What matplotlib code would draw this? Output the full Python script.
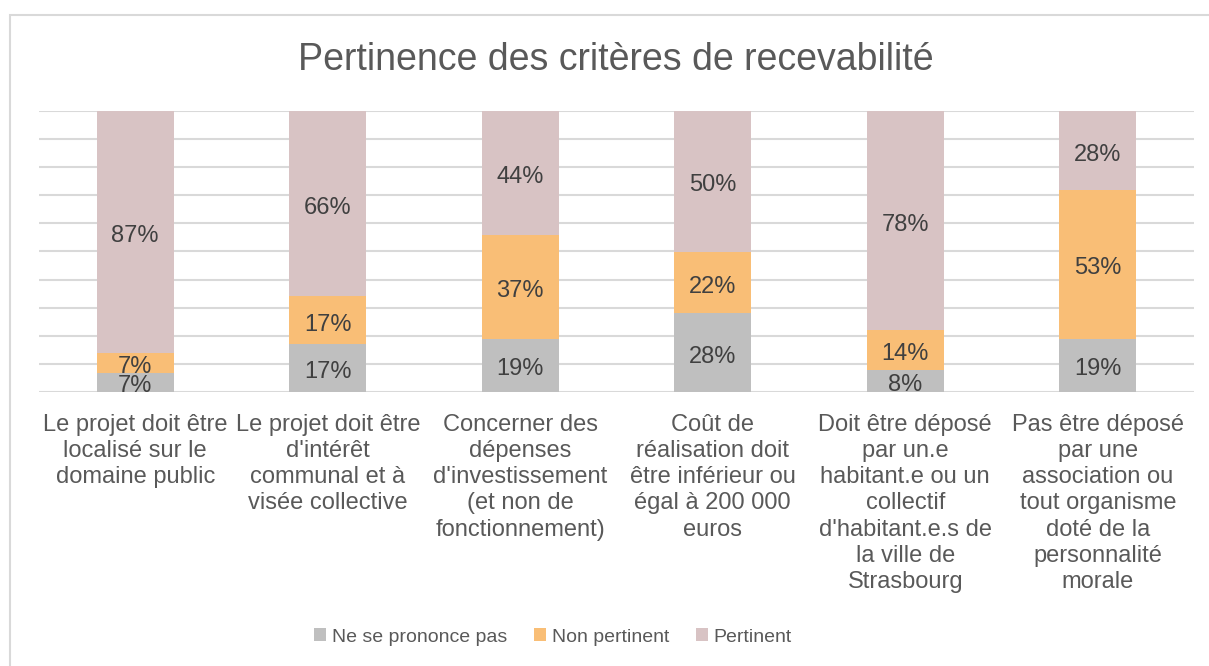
import numpy as np
import matplotlib
matplotlib.use("Agg")
import matplotlib.pyplot as plt
from matplotlib.patches import Patch, Rectangle

plt.rcParams["font.family"] = ["Liberation Sans", "DejaVu Sans"]

# Data
categories = [
    "Le projet doit être\nlocalisé sur le\ndomaine public",
    "Le projet doit être\nd'intérêt\ncommunal et à\nvisée collective",
    "Concerner des\ndépenses\nd'investissement\n(et non de\nfonctionnement)",
    "Coût de\nréalisation doit\nêtre inférieur ou\négal à 200 000\neuros",
    "Doit être déposé\npar un.e\nhabitant.e ou un\ncollectif\nd'habitant.e.s de\nla ville de\nStrasbourg",
    "Pas être déposé\npar une\nassociation ou\ntout organisme\ndoté de la\npersonnalité\nmorale",
]
ne_se_prononce = [7, 17, 19, 28, 8, 19]
non_pertinent = [7, 17, 37, 22, 14, 53]
pertinent = [87, 66, 44, 50, 78, 28]

series_names = ["Ne se prononce pas", "Non pertinent", "Pertinent"]
colors = ["#BFBFBF", "#F9BE76", "#D8C3C4"]

W, H = 1209, 666
fig = plt.figure(figsize=(W / 100, H / 100), dpi=100)

# outer chart frame (cut by the image on the right and bottom)
fig.patches.append(Rectangle((10 / W, -0.05), 1.1, 1 - 15 / H + 0.05,
                             transform=fig.transFigure, fill=False,
                             edgecolor="#D9D9D9", lw=1.5))

ax = fig.add_axes([39 / W, 1 - 392 / H, (1194 - 39) / W, (392 - 111) / H])

vals = np.array([ne_se_prononce, non_pertinent, pertinent], dtype=float)
totals = vals.sum(axis=0)
frac = vals / totals

x = np.arange(len(categories))
bottom = np.zeros(len(categories))
for i in range(3):
    ax.bar(x, frac[i], 0.4, bottom=bottom, color=colors[i], zorder=2,
           edgecolor="none")
    for j in range(len(categories)):
        ax.annotate("%d%%" % vals[i][j], (x[j], bottom[j] + frac[i][j] / 2),
                    xytext=(0, -3), textcoords="offset points",
                    ha="center", va="center", fontsize=17, color="#404040",
                    zorder=3)
    bottom += frac[i]

ax.set_xlim(-0.5, len(categories) - 0.5)
ax.set_ylim(0, 1)
for g in np.linspace(0, 1, 11):
    ax.axhline(g, color="#D9D9D9", lw=1.5, zorder=1)
for s in ax.spines.values():
    s.set_visible(False)
ax.set_yticks([])
ax.set_xticks(x)
ax.set_xticklabels(categories, fontsize=17, color="#595959", linespacing=1.24,
                   va="top")
ax.tick_params(axis="x", length=0, pad=16)

fig.text(616 / W, 1 - 60 / H, "Pertinence des critères de recevabilité",
         ha="center", va="center", fontsize=27, color="#595959")

handles = [Patch(facecolor=c, edgecolor="none") for c in colors]
fig.legend(handles, series_names, loc="center", bbox_to_anchor=(553 / W, 1 - 637 / H),
           ncol=3, frameon=False, fontsize=14, labelcolor="#595959",
           handlelength=0.6, handleheight=0.6, handletextpad=0.3,
           columnspacing=1.4)

fig.savefig("out.png", dpi=100)
